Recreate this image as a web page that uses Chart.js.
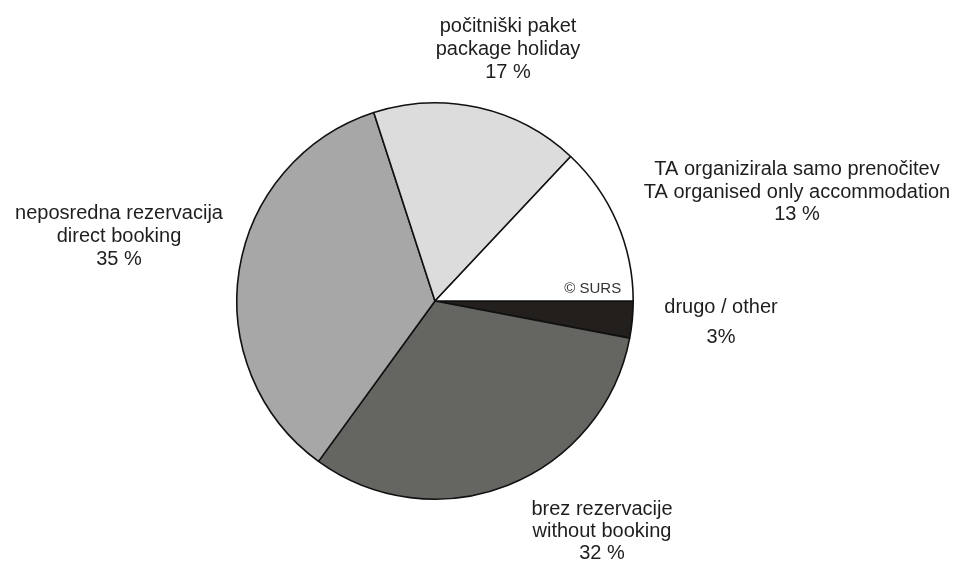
<!DOCTYPE html>
<html>
<head>
<meta charset="utf-8">
<script src="https://cdn.jsdelivr.net/npm/chart.js@4/dist/chart.umd.min.js"></script>
<style>
html,body{margin:0;padding:0;background:#fff;}
#wrap{width:954px;height:563px;position:relative;}
</style>
</head>
<body>
<div id="wrap"><canvas id="c" width="954" height="563"></canvas></div>
<script>
// Data (clockwise from 3 o'clock)
const categories = ["drugo / other", "brez rezervacije / without booking", "neposredna rezervacija / direct booking", "počitniški paket / package holiday", "TA organizirala samo prenočitev / TA organised only accommodation"];
const shares = [3, 32, 35, 17, 13];
const labelLines = [
  ["drugo / other", "3%"],
  ["brez rezervacije", "without booking", "32 %"],
  ["neposredna rezervacija", "direct booking", "35 %"],
  ["počitniški paket", "package holiday", "17 %"],
  ["TA organizirala samo prenočitev", "TA organised only accommodation", "13 %"]
];
const sourceNote = "© SURS";

// Styles / layout
const sliceColors = ["#221f1d", "#656562", "#a7a7a7", "#dcdcdc", "#ffffff"];
// label anchor offsets from pie center: [dx, first baseline dy, line spacing]
const labelOffsets = [
  [286, 12, 30],
  [167, 214, 22],
  [-316, -82, 23],
  [73, -269, 23],
  [362, -126, 22.5]
];

const labelPlugin = {
  id: 'pieLabels',
  afterDraw(chart) {
    const ctx = chart.ctx;
    const arc = chart.getDatasetMeta(0).data[0];
    if (!arc) return;
    const cx = arc.x, cy = arc.y, r = arc.outerRadius;
    ctx.save();
    ctx.fillStyle = "#1e1e1e";
    ctx.textBaseline = "alphabetic";
    ctx.textAlign = "center";
    ctx.font = "20px 'Liberation Sans', Arial, sans-serif";
    labelLines.forEach((lines, i) => {
      const [dx, dy, lh] = labelOffsets[i];
      lines.forEach((t, j) => ctx.fillText(t, cx + dx, cy + dy + j * lh));
    });
    ctx.textAlign = "right";
    ctx.font = "15px 'Liberation Sans', Arial, sans-serif";
    ctx.fillStyle = "#333";
    ctx.fillText(sourceNote, cx + r - 12, cy - 8);
    ctx.restore();
  }
};

new Chart(document.getElementById('c'), {
  type: 'pie',
  data: {
    labels: categories,
    datasets: [{
      data: shares,
      backgroundColor: sliceColors,
      borderColor: "#111",
      borderWidth: 1.6
    }]
  },
  options: {
    responsive: false,
    animation: false,
    rotation: 90,
    layout: { padding: { left: 236, right: 320, top: 102, bottom: 63 } },
    plugins: { legend: { display: false }, tooltip: { enabled: false } }
  },
  plugins: [labelPlugin]
});
</script>
</body>
</html>
